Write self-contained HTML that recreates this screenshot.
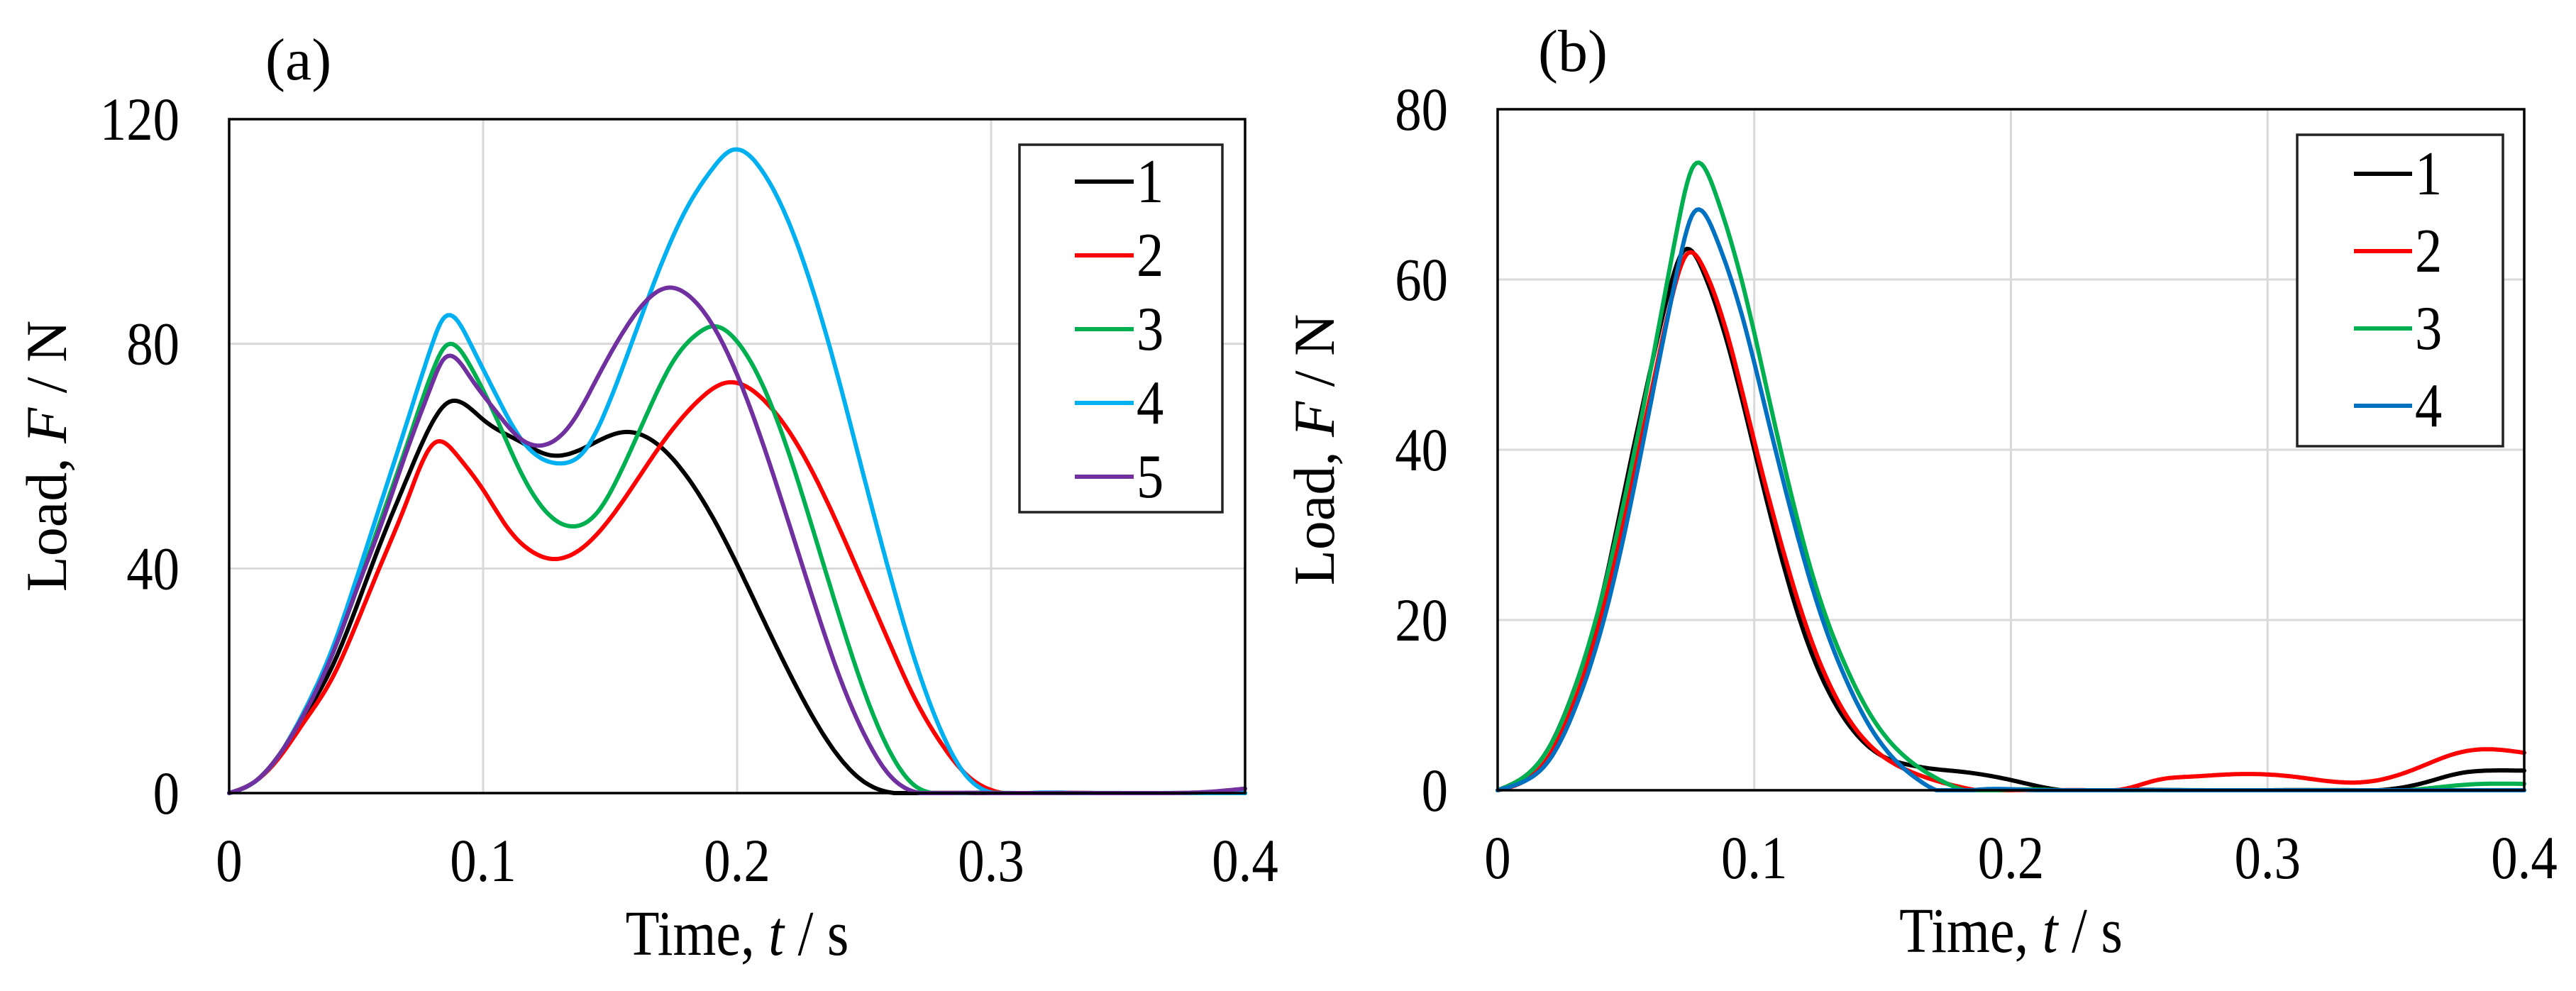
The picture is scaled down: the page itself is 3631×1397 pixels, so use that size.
<!DOCTYPE html>
<html><head><meta charset="utf-8"><style>
html,body{margin:0;padding:0;background:#fff;}
svg{display:block;}
text{font-family:"Liberation Serif","Times New Roman",serif;fill:#000;}
</style></head><body>
<svg id="fig" width="3631" height="1397" viewBox="0 0 3631 1397" xmlns="http://www.w3.org/2000/svg"></svg>
<script>
// ---------- Panel (a) data ----------
const aTicksX = [0, 0.1, 0.2, 0.3, 0.4];
const aTickLabelsX = ["0", "0.1", "0.2", "0.3", "0.4"];
const aTicksY = [0, 40, 80, 120];
const aLegend = ["1", "2", "3", "4", "5"];
const aT1 = [0,.01,.02,.03,.04,.05,.06,.07,.08,.086,.1,.115,.126,.14,.156,.17,.18,.19,.2,.21,.22,.23,.24,.25,.262,.275,.29,.31,.33,.36,.4];
const aV1 = [0,2,7,14,22,33,45,56,66,69.5,66.5,62.5,60.2,61.5,64.3,61.6,56.5,49.4,40.7,31.2,21.9,13.4,6.5,2,0,0,0,0,0,0,0];
const aT2 = [0,.01,.02,.03,.04,.05,.06,.07,.081,.09,.1,.11,.12,.127,.14,.155,.17,.185,.196,.21,.22,.23,.24,.25,.26,.27,.28,.29,.305,.32,.34,.37,.4];
const aV2 = [0,2,6.5,13,20,30,41,52,62.4,60,54,47,42.8,41.7,44,52,62,70,73.1,70.2,64.7,56.9,47.4,37.1,26.7,16.8,9.1,3.4,0,0,0,0,0];
const aT3 = [0,.01,.02,.03,.04,.05,.06,.07,.08,.085,.095,.105,.115,.125,.136,.145,.155,.165,.175,.185,.19,.2,.21,.22,.23,.24,.25,.26,.27,.277,.29,.31,.33,.36,.4];
const aV3 = [0,2,7,14.5,24,36,49,62,75,79.5,76,67,57,50,47.5,50,58,68,77,82,83.1,80.4,72.7,61,46.7,31.9,18.2,7.5,1.3,0,0,0,0,0,0];
const aT4 = [0,.01,.02,.03,.04,.05,.06,.07,.08,.084,.095,.105,.115,.13,.14,.15,.16,.17,.18,.19,.198,.21,.22,.23,.24,.25,.26,.27,.28,.29,.301,.315,.335,.365,.4];
const aV4 = [0,2,7,15,25,38,52,66,80,84.3,80,71,63,58.7,61,70,82,94,104,111,114.5,110.7,102,89.3,73.6,56.2,39.2,23.7,11.4,3.2,0,0,0,0,0];
const aT5 = [0,.01,.02,.03,.04,.05,.06,.07,.08,.084,.095,.105,.115,.123,.135,.145,.155,.165,.173,.18,.19,.2,.21,.22,.23,.24,.25,.26,.272,.285,.3,.32,.345,.37,.385,.4];
const aV5 = [0,2,7,14.5,24,36,48,61,73,77,74,68,63,61.9,66,74,82,88,90,88.9,83.6,74.5,62.4,48.6,34.4,21.1,10.5,3.2,0,0,0,0,0,0,0.2,0.8];

// ---------- Panel (b) data ----------
const bTicksX = [0, 0.1, 0.2, 0.3, 0.4];
const bTickLabelsX = ["0", "0.1", "0.2", "0.3", "0.4"];
const bTicksY = [0, 20, 40, 60, 80];
const bLegend = ["1", "2", "3", "4"];
const bT1 = [0,.01,.02,.03,.04,.05,.06,.068,.072,.08,.09,.1,.11,.12,.13,.14,.15,.16,.17,.18,.2,.22,.24,.27,.3,.32,.343,.36,.375,.385,.4];
const bV1 = [0,1.5,5,12,22,36,50,60,63.2,61,52,40,28,18,11,6.5,4,3,2.5,2.2,1.2,0,0,0,0,0,0,0.8,2,2.3,2.3];
const bT2 = [0,.01,.02,.03,.04,.05,.06,.068,.0735,.08,.09,.1,.11,.12,.13,.14,.15,.16,.17,.18,.187,.2,.215,.23,.241,.25,.257,.27,.289,.31,.333,.345,.36,.372,.383,.4];
const bV2 = [0,1,4,10.5,20,33,47,58,62.9,61.5,53,41,29.5,19.5,12,7,4,2.3,1.2,0.4,0,0,0,0,0,0.6,1.2,1.6,1.9,1.6,0.9,1.3,2.8,4.2,4.8,4.4];
const bT3 = [0,.01,.02,.03,.04,.05,.06,.07,.0757,.085,.095,.105,.115,.125,.135,.145,.155,.165,.175,.182,.195,.22,.25,.28,.31,.335,.354,.365,.38,.4];
const bV3 = [0,1.5,5,12,22,35,50,66,73,70,60,47,34,23,15,9,5,2.5,0.8,0,0,0,0,0,0,0,0,0.3,0.7,0.75];
const bT4 = [0,.01,.02,.03,.04,.05,.06,.07,.0757,.085,.095,.105,.115,.125,.135,.145,.155,.165,.171,.185,.21,.24,.27,.3,.33,.36,.4];
const bV4 = [0,1,3.5,9.5,18.5,31,46,61,67.5,65,56,44,32,21.5,13.5,7.5,3.5,1,0,0,0,0,0,0,0,0,0];

const NS = "http://www.w3.org/2000/svg";
const svg = document.getElementById("fig");
function mk(tag, attrs, parent) {
  const e = document.createElementNS(NS, tag);
  for (const k in attrs) e.setAttribute(k, attrs[k]);
  (parent || svg).appendChild(e);
  return e;
}
// natural cubic spline through data, sampled densely, clamped at zero
function splinePath(tx, vy, xs, ys) {
  const n = tx.length;
  const h = [], al = [], l = [1], mu = [0], z = [0], c = new Array(n).fill(0), b = [], d = [];
  for (let i = 0; i < n - 1; i++) h.push(tx[i + 1] - tx[i]);
  for (let i = 1; i < n - 1; i++) al[i] = 3 / h[i] * (vy[i + 1] - vy[i]) - 3 / h[i - 1] * (vy[i] - vy[i - 1]);
  for (let i = 1; i < n - 1; i++) {
    l[i] = 2 * (tx[i + 1] - tx[i - 1]) - h[i - 1] * mu[i - 1];
    mu[i] = h[i] / l[i];
    z[i] = (al[i] - h[i - 1] * z[i - 1]) / l[i];
  }
  for (let j = n - 2; j >= 0; j--) {
    c[j] = (j === 0 ? 0 : z[j] - mu[j] * c[j + 1]);
    b[j] = (vy[j + 1] - vy[j]) / h[j] - h[j] * (c[j + 1] + 2 * c[j]) / 3;
    d[j] = (c[j + 1] - c[j]) / (3 * h[j]);
  }
  let s = "";
  for (let j = 0; j < n - 1; j++) {
    const steps = Math.max(2, Math.ceil(h[j] / 0.001));
    for (let k = (j === 0 ? 0 : 1); k <= steps; k++) {
      const dx = h[j] * k / steps;
      let v = vy[j] + b[j] * dx + c[j] * dx * dx + d[j] * dx * dx * dx;
      if (v < 0) v = 0;
      s += (s ? "L" : "M") + xs(tx[j] + dx).toFixed(1) + "," + ys(v).toFixed(1);
    }
  }
  return s;
}
function txt(x, y, s, size, anchor, sx) {
  const t = mk("text", {transform: "translate(" + x + "," + y + ") scale(" + sx + ",1)", "font-size": size, "text-anchor": anchor});
  t.textContent = s;
  return t;
}

function panel(cfg) {
  const L = cfg.L, R = cfg.R, T = cfg.T, B = cfg.B;
  const xs = v => L + (v - 0) / 0.4 * (R - L);
  const ys = v => B - v / cfg.yMax * (B - T);
  const g = mk("g", {});
  
  
  cfg.ticksX.forEach((v, i) => {
    if (i === 0 || i === cfg.ticksX.length - 1) return;
    const l = mk("line", {x1: xs(v), x2: xs(v), y1: T, y2: B, stroke: "#d9d9d9", "stroke-width": 3}, g);
    
    
  });
  cfg.ticksY.forEach((v, i) => {
    if (i === 0 || i === cfg.ticksY.length - 1) return;
    const l = mk("line", {x1: L, x2: R, y1: ys(v), y2: ys(v), stroke: "#d9d9d9", "stroke-width": 3}, g);
    
    
  });
  cfg.series.forEach((s, i) => {
    const p = mk("path", {d: splinePath(s.t, s.v, xs, ys), fill: "none", stroke: s.c, "stroke-width": 6, "stroke-linejoin": "round", "stroke-linecap": "round"}, g);
    
    
  });
  const fr = mk("rect", {x: L, y: T, width: R - L, height: B - T, fill: "none", stroke: "#000", "stroke-width": 3.5}, g);
  
  
  cfg.ticksX.forEach((v, i) => {
    const t = txt(xs(v), B + 124, cfg.labelsX[i], 86, "middle", 0.87);
    
    
  });
  cfg.ticksY.forEach(v => {
    const t = txt(L - 70, ys(v) + 29, String(v), 86, "end", 0.87);
    
    
  });
  const xt = mk("text", {transform: "translate(" + ((L + R) / 2) + "," + (B + 228) + ") scale(0.87,1)", "font-size": 90, "text-anchor": "middle"});
  xt.innerHTML = 'Time, <tspan font-style="italic">t</tspan> / s';
  
  
  const yt = mk("text", {transform: "translate(" + cfg.ytx + "," + ((T + B) / 2) + ") rotate(-90)", "font-size": 82, "text-anchor": "middle"});
  yt.innerHTML = 'Load, <tspan font-style="italic">F</tspan> / N';
  
  
  const pl = txt(cfg.plx, cfg.ply, cfg.plabel, 84, "start", 1.0);
  
  
  const lg = cfg.lg;
  const lb = mk("rect", {x: lg.x, y: lg.y, width: lg.w, height: lg.h, fill: "#fff", stroke: "#222", "stroke-width": 3.5});
  
  
  cfg.legend.forEach((name, i) => {
    const cy = lg.r0 + i * lg.dr;
    const ln = mk("line", {x1: lg.lx1, x2: lg.lx2, y1: cy, y2: cy, stroke: cfg.series[i].c, "stroke-width": 6});
    
    
    const t = txt(lg.lx2 + 4, cy + 29, name, 88, "start", 0.87);
    
    
  });
}

panel({name: "panel-a", L: 323, R: 1755, T: 168, B: 1118, yMax: 120,
  ticksX: aTicksX, labelsX: aTickLabelsX, ticksY: aTicksY, legend: aLegend,
  ytx: 93, plx: 374, ply: 112, plabel: "(a)",
  lg: {x: 1437, y: 204, w: 286, h: 518, r0: 256, dr: 104, lx1: 1515, lx2: 1598},
  series: [
    {t: aT1, v: aV1, c: "#000000"},
    {t: aT2, v: aV2, c: "#ff0000"},
    {t: aT3, v: aV3, c: "#00b050"},
    {t: aT4, v: aV4, c: "#00b0f0"},
    {t: aT5, v: aV5, c: "#7030a0"}
  ]});
panel({name: "panel-b", L: 2111, R: 3558, T: 154, B: 1114, yMax: 80,
  ticksX: bTicksX, labelsX: bTickLabelsX, ticksY: bTicksY, legend: bLegend,
  ytx: 1880, plx: 2168, ply: 100, plabel: "(b)",
  lg: {x: 3238, y: 190, w: 290, h: 439, r0: 245, dr: 109, lx1: 3318, lx2: 3400},
  series: [
    {t: bT1, v: bV1, c: "#000000"},
    {t: bT2, v: bV2, c: "#ff0000"},
    {t: bT3, v: bV3, c: "#00b050"},
    {t: bT4, v: bV4, c: "#0070c0"}
  ]});
</script>
</body></html>
